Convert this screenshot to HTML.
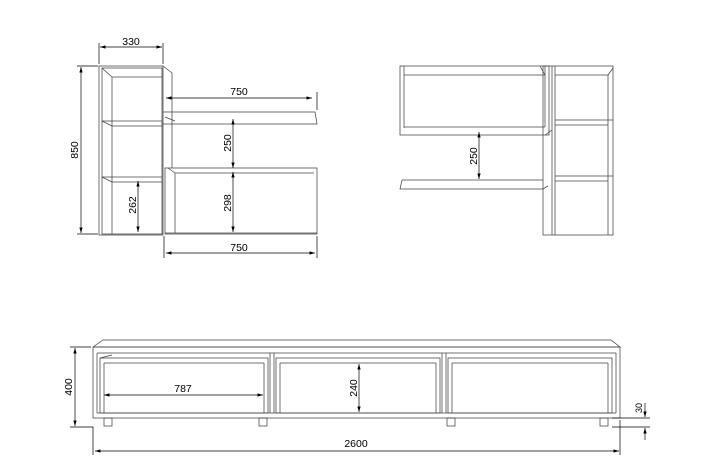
<!DOCTYPE html>
<html><head><style>body{margin:0;background:#fff}svg{display:block}</style></head><body>
<svg width="720" height="469" viewBox="0 0 720 469" xmlns="http://www.w3.org/2000/svg" font-family="Liberation Sans, sans-serif" font-size="10.5" fill="none" stroke="#444" stroke-width="0.75">
<defs>
<marker id="a" viewBox="0 0 10 6" refX="10" refY="3" markerWidth="8" markerHeight="5" orient="auto-start-reverse"><path d="M0,0L10,3L0,6z" fill="#000" stroke="none"/></marker>
</defs>
<!-- LEFT UNIT -->
<rect x="99" y="66" width="64" height="169"/>
<rect x="102" y="68" width="60" height="166"/>
<line x1="112" y1="77" x2="112" y2="234"/>
<line x1="102" y1="68" x2="112" y2="77"/><line x1="112" y1="77" x2="162" y2="77"/>
<line x1="102" y1="121" x2="162" y2="121"/><line x1="102" y1="121" x2="112" y2="126"/><line x1="112" y1="126" x2="162" y2="126"/>
<line x1="102" y1="177" x2="162" y2="177"/><line x1="102" y1="177" x2="112" y2="182"/><line x1="112" y1="182" x2="162" y2="182"/>
<polyline points="163,66 172,73 172,168"/>
<polyline points="163,112 315,112 317,124 163,124"/>
<line x1="165" y1="117" x2="175" y2="121"/>
<rect x="165" y="168" width="152" height="66"/>
<line x1="175" y1="173" x2="175" y2="233"/><line x1="168" y1="168" x2="175" y2="173"/><line x1="175" y1="173" x2="314" y2="173"/>
<line x1="165" y1="233" x2="317" y2="233"/>
<!-- dims left -->
<g stroke="#000" stroke-width="0.7">
<line x1="99" y1="43" x2="99" y2="64"/><line x1="163" y1="43" x2="163" y2="64"/>
<line x1="100" y1="47" x2="162" y2="47" marker-start="url(#a)" marker-end="url(#a)"/>
<line x1="77" y1="66" x2="98" y2="66"/><line x1="77" y1="234" x2="98" y2="234"/>
<line x1="81" y1="67" x2="81" y2="233" marker-start="url(#a)" marker-end="url(#a)"/>
<line x1="166" y1="98" x2="312" y2="98" marker-start="url(#a)" marker-end="url(#a)"/>
<line x1="317" y1="92" x2="317" y2="110"/>
<line x1="233" y1="119" x2="233" y2="168" marker-start="url(#a)" marker-end="url(#a)"/>
<line x1="233" y1="172" x2="233" y2="232" marker-start="url(#a)" marker-end="url(#a)"/>
<line x1="138" y1="181" x2="138" y2="232" marker-start="url(#a)" marker-end="url(#a)"/>
<line x1="164" y1="236" x2="164" y2="258"/><line x1="317" y1="236" x2="317" y2="258"/>
<line x1="166" y1="253" x2="315" y2="253" marker-start="url(#a)" marker-end="url(#a)"/>
</g>
<g fill="#000" stroke="none">
<text x="131" y="45" text-anchor="middle">330</text>
<text x="239" y="95" text-anchor="middle">750</text>
<text x="239" y="251" text-anchor="middle">750</text>
<text transform="translate(78,150) rotate(-90)" text-anchor="middle">850</text>
<text transform="translate(231,143) rotate(-90)" text-anchor="middle">250</text>
<text transform="translate(231,203) rotate(-90)" text-anchor="middle">298</text>
<text transform="translate(136,205) rotate(-90)" text-anchor="middle">262</text>
</g>
<!-- RIGHT UNIT -->
<rect x="400" y="66" width="149" height="69"/>
<line x1="404" y1="66" x2="404" y2="128"/><line x1="404" y1="75" x2="545" y2="75"/><line x1="545" y1="66" x2="545" y2="75"/>
<line x1="404" y1="127" x2="545" y2="127"/><line x1="545" y1="75" x2="545" y2="127"/>
<line x1="540" y1="66" x2="545" y2="75"/>
<polyline points="545,135 552,130"/>
<rect x="543" y="66" width="70" height="169"/>
<line x1="552" y1="66" x2="552" y2="235"/>
<line x1="555" y1="66" x2="555" y2="235"/>
<line x1="608" y1="75" x2="608" y2="235"/><line x1="555" y1="75" x2="608" y2="75"/><line x1="608" y1="75" x2="613" y2="68"/>
<line x1="555" y1="120" x2="613" y2="120"/><line x1="555" y1="125" x2="608" y2="125"/>
<line x1="555" y1="176" x2="613" y2="176"/><line x1="555" y1="181" x2="608" y2="181"/>
<polyline points="543,180 402,180 400,189 543,189 548,186"/>
<g stroke="#000" stroke-width="0.7"><line x1="479" y1="132" x2="479" y2="179" marker-start="url(#a)" marker-end="url(#a)"/></g>
<text transform="translate(477,156) rotate(-90)" text-anchor="middle" fill="#000" stroke="none">250</text>
<!-- BOTTOM UNIT -->
<polyline points="93,347 103,340 611,340 620,347 93,347"/>
<rect x="93" y="347" width="527" height="71"/>
<line x1="97" y1="353" x2="616" y2="353"/>
<line x1="97" y1="353" x2="97" y2="413"/><line x1="616" y1="353" x2="616" y2="413"/>
<line x1="97" y1="413" x2="616" y2="413"/>
<rect x="100" y="358" width="168" height="55"/>
<line x1="104" y1="363" x2="264" y2="363"/><line x1="104" y1="363" x2="104" y2="413"/><line x1="264" y1="363" x2="264" y2="413"/>
<line x1="100" y1="358" x2="112" y2="355"/>
<rect x="276" y="358" width="164" height="55"/>
<line x1="280" y1="363" x2="436" y2="363"/><line x1="280" y1="363" x2="280" y2="413"/><line x1="436" y1="363" x2="436" y2="413"/>
<rect x="448" y="358" width="164" height="55"/>
<line x1="452" y1="363" x2="608" y2="363"/><line x1="452" y1="363" x2="452" y2="413"/><line x1="608" y1="363" x2="608" y2="413"/>
<line x1="270" y1="353" x2="270" y2="413"/><line x1="274" y1="353" x2="274" y2="413"/>
<line x1="442" y1="353" x2="442" y2="413"/><line x1="446" y1="353" x2="446" y2="413"/>
<rect x="104" y="418" width="8" height="8"/><rect x="259" y="418" width="8" height="8"/>
<rect x="447" y="418" width="8" height="8"/><rect x="600" y="418" width="8" height="8"/>
<g stroke="#000" stroke-width="0.7">
<line x1="70" y1="347" x2="91" y2="347"/><polyline points="70,427 93,427 93,455"/>
<line x1="75" y1="348" x2="75" y2="426" marker-start="url(#a)" marker-end="url(#a)"/>
<line x1="104" y1="395" x2="263" y2="395" marker-start="url(#a)" marker-end="url(#a)"/>
<line x1="359" y1="364" x2="359" y2="412" marker-start="url(#a)" marker-end="url(#a)"/>
<line x1="620" y1="420" x2="620" y2="455"/>
<line x1="95" y1="451" x2="619" y2="451" marker-start="url(#a)" marker-end="url(#a)"/>
<line x1="612" y1="418" x2="650" y2="418"/><line x1="612" y1="427" x2="650" y2="427"/>
<line x1="645" y1="403" x2="645" y2="417" marker-end="url(#a)"/>
<line x1="645" y1="440" x2="645" y2="428" marker-end="url(#a)"/>
</g>
<g fill="#000" stroke="none">
<text x="183" y="392" text-anchor="middle">787</text>
<text x="356" y="451" text-anchor="middle" dy="-4">2600</text>
<text transform="translate(72,387) rotate(-90)" text-anchor="middle">400</text>
<text transform="translate(357,388) rotate(-90)" text-anchor="middle">240</text>
<text transform="translate(642,408) rotate(-90)" text-anchor="middle" font-size="9">30</text>
</g>
</svg>
</body></html>
